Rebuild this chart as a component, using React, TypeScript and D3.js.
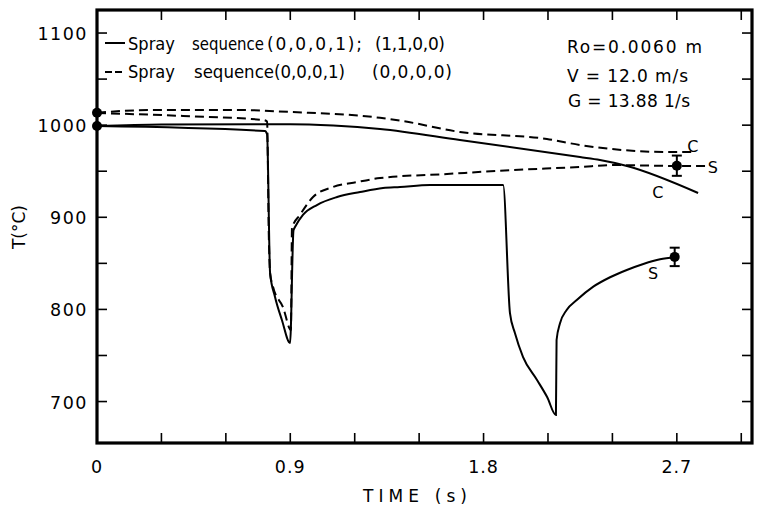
import React from 'react';
import * as d3 from 'd3';

const W = 761, H = 507;
const X0 = 97, X1 = 752, Y0 = 443, Y1 = 10;

const timeDomain = [0, 3.05];
const tempDomain = [655, 1125];

const xLabelValues = [0, 0.9, 1.8, 2.7];
const xLabelTexts = ['0', '0.9', '1.8', '2.7'];
const xTickValues = [0.3, 0.6, 0.9, 1.2, 1.5, 1.8, 2.1, 2.4, 2.7, 3.0];
const yLabelValues = [700, 800, 900, 1000, 1100];
const yLabelTexts = ['700', '800', '900', '1000', '1100'];
const yTickValues = [700, 750, 800, 850, 900, 950, 1000, 1050, 1100];

// sequence (0,0,0,1);(1,1,0,0) — solid
const solidCenter: [number, number][] = [
  [0, 999], [0.3, 1000.8], [0.9, 1001], [1.1, 999.5], [1.318, 995.8], [1.69, 983.9],
  [2.249, 965.4], [2.342, 962.2], [2.468, 955.7], [2.799, 926.4],
];
const solidSurface: [number, number][] = [
  [0, 999], [0.782, 993.6], [0.792, 990], [0.806, 839.5], [0.829, 813.5], [0.861, 788.5],
  [0.899, 763.5], [0.915, 886], [0.922, 889.4], [0.959, 902.5], [1.024, 913.3], [1.118, 922],
  [1.225, 927.4], [1.332, 931.8], [1.411, 932.9], [1.551, 935], [1.891, 935], [1.923, 796],
  [1.946, 774.4], [1.984, 748.3], [2.049, 723.4], [2.096, 704.9], [2.137, 685.4], [2.14, 766.8],
  [2.156, 784.9], [2.187, 799.4], [2.234, 810.2], [2.311, 824.7], [2.389, 834.9], [2.467, 842.8],
  [2.544, 849.3], [2.622, 854.4], [2.692, 856.6],
];
// sequence (0,0,0,1)(0,0,0,0) — dashed
const dashedCenter: [number, number][] = [
  [0, 1013.5], [0.25, 1016.4], [0.666, 1016.4], [0.9, 1014.3], [1.318, 1008], [1.411, 1005],
  [1.69, 992.6], [2.095, 985], [2.249, 978.5], [2.654, 970.9], [2.775, 970.9],
];
const dashedSurface: [number, number][] = [
  [0, 1013.2], [0.4, 1010], [0.773, 1005.6], [0.792, 1004], [0.8, 880], [0.806, 839.5],
  [0.82, 824.3], [0.866, 802.6], [0.903, 777.7], [0.908, 888.4], [0.945, 902.5], [1.006, 922],
  [1.099, 932.9], [1.211, 938.3], [1.318, 942.6], [1.63, 947], [1.937, 951.3], [2.249, 954.6],
  [2.403, 956.7], [2.701, 955.7], [2.841, 955.7],
];

const startDots: [number, number][] = [[0, 999], [0, 1013.5]];
const measured: { t: number; T: number; err: number }[] = [
  { t: 2.69, T: 857, err: 10 },
  { t: 2.70, T: 956, err: 11 },
];

const curveLabels: { t: number; T: number; text: string }[] = [
  { t: 2.775, T: 977.5, text: 'C' },
  { t: 2.868, T: 954.5, text: 'S' },
  { t: 2.612, T: 927, text: 'C' },
  { t: 2.589, T: 840, text: 'S' },
];

const font = '"DejaVu Sans", sans-serif';

export default function App() {
  const x = d3.scaleLinear().domain(timeDomain).range([X0, X1]);
  const y = d3.scaleLinear().domain(tempDomain).range([Y0, Y1]);
  const line = d3.line<[number, number]>()
    .x(d => x(d[0])).y(d => y(d[1]))
    .curve(d3.curveMonotoneX);

  return (
    <svg width={W} height={H} style={{ position: 'absolute', left: 0, top: 0, background: '#fff' }}>
      <rect x={0} y={0} width={W} height={H} fill="#fff" />
      {xTickValues.map((v, i) => (
        <g key={'xt' + i} stroke="#000" strokeWidth={1.6}>
          <line x1={x(v)} x2={x(v)} y1={Y0} y2={Y0 - 10} />
          <line x1={x(v)} x2={x(v)} y1={Y1} y2={Y1 + 10} />
        </g>
      ))}
      {yTickValues.map((v, i) => (
        <g key={'yt' + i} stroke="#000" strokeWidth={1.6}>
          <line x1={X0} x2={X0 + 10} y1={y(v)} y2={y(v)} />
          <line x1={X1} x2={X1 - 10} y1={y(v)} y2={y(v)} />
        </g>
      ))}
      <rect x={X0} y={Y1} width={X1 - X0} height={Y0 - Y1} fill="none" stroke="#000" strokeWidth={3.2} />

      {xLabelValues.map((v, i) => (
        <text key={'xl' + i} x={x(v)} y={473} textAnchor="middle" fontFamily={font} fontSize={17.5} letterSpacing={1}>{xLabelTexts[i]}</text>
      ))}
      {yLabelValues.map((v, i) => (
        <text key={'yl' + i} x={88} y={y(v) + 7} textAnchor="end" fontFamily={font} fontSize={17.5} letterSpacing={1.5}>{yLabelTexts[i]}</text>
      ))}
      <text x={363} y={502} fontFamily={font} fontSize={17} textLength={104} lengthAdjust="spacing">TIME (s)</text>
      <text transform="translate(25,227) rotate(-90)" textAnchor="middle" fontFamily={font} fontSize={17}>T(°C)</text>

      <path d={line(solidCenter) || ''} fill="none" stroke="#000" strokeWidth={2} />
      <path d={line(solidSurface) || ''} fill="none" stroke="#000" strokeWidth={2} />
      <path d={line(dashedCenter) || ''} fill="none" stroke="#000" strokeWidth={2} strokeDasharray="9,5" />
      <path d={line(dashedSurface) || ''} fill="none" stroke="#000" strokeWidth={2} strokeDasharray="9,5" />

      {startDots.map((d, i) => (
        <circle key={'sd' + i} cx={x(d[0])} cy={y(d[1])} r={5} fill="#000" />
      ))}
      {measured.map((m, i) => (
        <g key={'m' + i} stroke="#000" strokeWidth={2}>
          <line x1={x(m.t)} x2={x(m.t)} y1={y(m.T - m.err)} y2={y(m.T + m.err)} />
          <line x1={x(m.t) - 5} x2={x(m.t) + 5} y1={y(m.T - m.err)} y2={y(m.T - m.err)} />
          <line x1={x(m.t) - 5} x2={x(m.t) + 5} y1={y(m.T + m.err)} y2={y(m.T + m.err)} />
          <circle cx={x(m.t)} cy={y(m.T)} r={5} fill="#000" stroke="none" />
        </g>
      ))}
      {curveLabels.map((c, i) => (
        <text key={'cl' + i} x={x(c.t)} y={y(c.T) + 6} textAnchor="middle" fontFamily={font} fontSize={16}>{c.text}</text>
      ))}

      <line x1={105} x2={125} y1={43} y2={43} stroke="#000" strokeWidth={2} />
      <line x1={105} x2={122} y1={72} y2={72} stroke="#000" strokeWidth={2} strokeDasharray="7,3" />
      <g fontFamily={font} fontSize={17}>
        <text x={128} y={50} textLength={47} lengthAdjust="spacingAndGlyphs">Spray</text>
        <text x={192} y={50} textLength={72} lengthAdjust="spacingAndGlyphs">sequence</text>
        <text x={267} y={50} textLength={95} lengthAdjust="spacing">(0,0,0,1);</text>
        <text x={375} y={50} textLength={70} lengthAdjust="spacing">(1,1,0,0)</text>
        <text x={128} y={78} textLength={47} lengthAdjust="spacingAndGlyphs">Spray</text>
        <text x={194} y={78} textLength={151} lengthAdjust="spacingAndGlyphs">sequence(0,0,0,1)</text>
        <text x={372} y={78} textLength={80} lengthAdjust="spacing">(0,0,0,0)</text>
        <text x={567} y={53} textLength={135} lengthAdjust="spacing">Ro=0.0060 m</text>
        <text x={567} y={82} textLength={121} lengthAdjust="spacing">V = 12.0 m/s</text>
        <text x={568} y={107} textLength={122} lengthAdjust="spacing">G = 13.88 1/s</text>
      </g>
    </svg>
  );
}
